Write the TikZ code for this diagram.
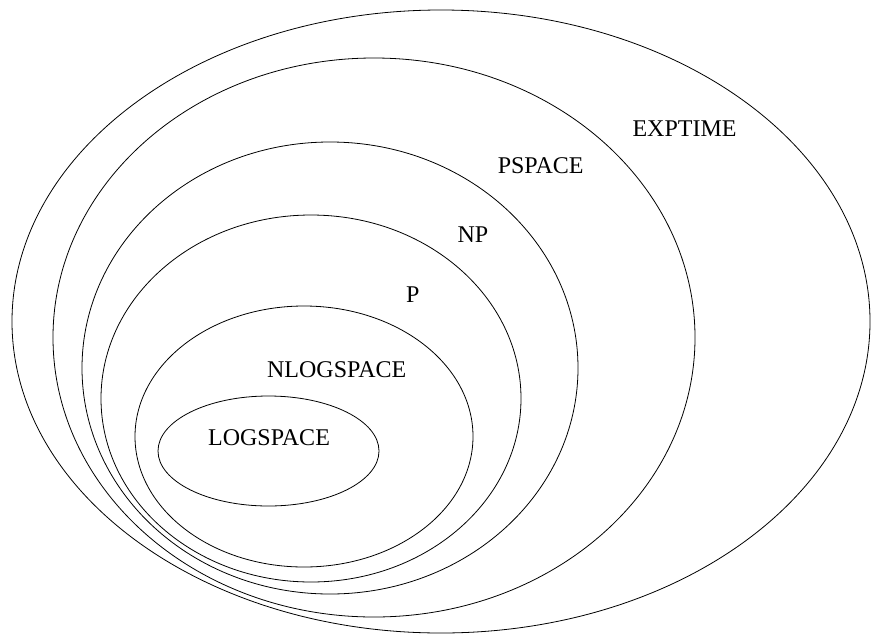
\documentclass[tikz,border=0pt]{standalone}
\usepackage{fontspec}
\setmainfont{Liberation Serif}
\begin{document}
\begin{tikzpicture}[x=1pt,y=-1pt,
  setline/.style={draw=black,line width=0.8pt},
  lbl/.style={anchor=base,inner sep=0pt,font=\fontsize{24}{28}\selectfont}]
\useasboundingbox (0,0) rectangle (872,635);
% ellipses
\draw[setline] (441,321.5) ellipse [x radius=429,y radius=311.5];
\draw[setline] (374,337.5) ellipse [x radius=321,y radius=279.5];
\draw[setline] (330,368) ellipse [x radius=248,y radius=226];
\draw[setline] (311,398.5) ellipse [x radius=210,y radius=183.5];
\draw[setline] (304,436.5) ellipse [x radius=169,y radius=130.5];
\draw[setline] (268.5,451) ellipse [x radius=110.5,y radius=55];
% labels
\node[lbl] (exptime) at (684.5,136.7) {EXPTIME};
\node[lbl] (pspace) at (540.7,173.3) {PSPACE};
\node[lbl] (np) at (473,242.7) {NP};
\node[lbl] (p) at (412.7,302) {P};
\node[lbl] (nlogspace) at (336.7,377.3) {NLOGSPACE};
\node[lbl] (logspace) at (269,445.7) {LOGSPACE};
\end{tikzpicture}
\end{document}
